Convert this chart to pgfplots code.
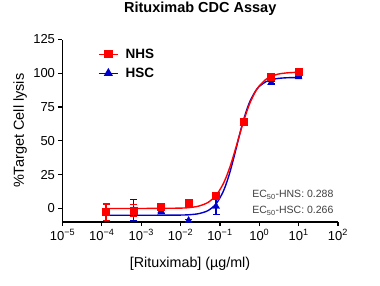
\documentclass[border=0pt]{standalone}
\usepackage{pgfplots}
\pgfplotsset{compat=1.18}
\usepackage{fontspec}
\setmainfont{Liberation Sans}
\definecolor{nhs}{RGB}{255,0,0}
\definecolor{hsc}{RGB}{0,0,204}
\definecolor{anno}{RGB}{64,64,64}
\begin{document}
\begin{tikzpicture}
\path[use as bounding box] (-62.5pt,-63pt) rectangle (317.5pt,222pt);
\begin{axis}[
  at={(0,0)}, anchor=south west, scale only axis,
  width=275.5pt, height=182.5pt,
  xmode=log, xmin=1e-5, xmax=100, ymin=-10, ymax=125,
  axis x line*=bottom, axis y line*=left,
  axis line style={line width=1.3pt, black},
  tick align=outside, major tick length=4pt,
  tick style={line width=1.2pt, black},
  xminorticks=false,
  xtick={1e-5,1e-4,1e-3,1e-2,1e-1,1,10,100},
  xticklabels={10\textsuperscript{−5},10\textsuperscript{−4},10\textsuperscript{−3},10\textsuperscript{−2},10\textsuperscript{−1},10\textsuperscript{0},10\textsuperscript{1},10\textsuperscript{2}},
  ytick={0,25,50,75,100,125},
  /pgf/number format/assume math mode=true,
  tick label style={font=\fontsize{13}{15}\selectfont},
  title={\bfseries Rituximab CDC Assay},
  title style={font=\fontsize{14.5}{16}\selectfont, at={(axis description cs:0.5,1.134)}, anchor=center},
  xlabel={[Rituximab] (µg/ml)},
  xlabel style={font=\fontsize{14.3}{16}\selectfont, at={(axis description cs:0.463,-0.230)}, anchor=center},
  ylabel={\%Target Cell lysis},
  ylabel style={font=\fontsize{14.5}{16}\selectfont, at={(axis description cs:-0.154,0.5)}, anchor=center},
  legend style={at={(axis description cs:0.118,0.972)}, anchor=north west, draw=none, fill=none,
    font=\bfseries\fontsize{13.5}{15}\selectfont, row sep=4pt,
    /tikz/every odd column/.append style={column sep=5pt}},
  legend image code/.code={\draw[mark repeat=2,mark phase=2,#1] plot coordinates {(0pt,0pt) (9.5pt,0pt) (19pt,0pt)};},
  legend cell align=left,
]
\addlegendimage{nhs, line width=1.3pt, mark=square*, mark size=3.5pt}
\addlegendimage{hsc, line width=1.3pt, mark=triangle*, mark size=4pt}
\legend{NHS,HSC}

% fitted curves
\addplot[hsc, line width=1.4pt, smooth, no marks] coordinates {
(1.2e-4,-5) (1e-3,-5) (1e-2,-4.86) (0.02,-4.43) (0.03,-3.72) (0.05,-1.52) (0.08,3.46) (0.12,12.26) (0.16,22.1) (0.2,31.8) (0.25,42.8) (0.3,52.1) (0.35,59.7) (0.4,65.7) (0.5,74.5) (0.6,80.2) (0.8,86.8) (1,90.3) (1.5,93.9) (2,95.2) (3,96.2) (5,96.7) (10,96.9)};
\addplot[nhs, line width=1.4pt, smooth, no marks] coordinates {
(1.2e-4,0) (1e-3,0.005) (1e-2,0.28) (0.02,0.94) (0.03,1.89) (0.05,4.51) (0.08,9.70) (0.12,17.97) (0.16,26.6) (0.2,34.9) (0.25,44.3) (0.3,52.3) (0.35,59.0) (0.4,64.7) (0.5,73.1) (0.6,79.1) (0.8,86.5) (1,90.7) (1.5,95.7) (2,97.7) (3,99.4) (5,100.3) (10,100.8)};

% HSC data
\addplot[hsc, only marks, mark=triangle*, mark size=4pt,
  error bars/.cd, y dir=both, y explicit,
  error bar style={line width=1.3pt, hsc},
  error mark options={rotate=90, mark size=3.5pt, line width=1.3pt, hsc}]
table[x=x, y=y, y error=e] {
x y e
0.000128 -3 2
0.00064 -1.2 7.7
0.0032 -2 1.5
0.016 -8.9 0.5
0.08 1.5 6
0.4 63 1.5
2 93 1
10 97.3 0.5
};
% NHS data
\addplot[nhs, only marks, mark=square*, mark size=3.5pt,
  error bars/.cd, y dir=both, y explicit,
  error bar style={line width=1.3pt, nhs},
  error mark options={rotate=90, mark size=3.5pt, line width=1.3pt, nhs}]
table[x=x, y=y, y error=e] {
x y e
0.000128 -2.7 6
0.00064 -1.5 4.5
0.0032 1.5 1.2
0.016 4.0 1.0
0.08 9.6 1.0
0.4 64.5 2.0
2 97.4 1.0
10 101.5 1.0
};

\node[anchor=east, font=\fontsize{10.5}{12}\selectfont, text=anno] at (axis description cs:0.996,0.148) {EC\textsubscript{50}-HNS: 0.288};
\node[anchor=east, font=\fontsize{10.5}{12}\selectfont, text=anno] at (axis description cs:0.996,0.060) {EC\textsubscript{50}-HSC: 0.266};
\end{axis}
\end{tikzpicture}
\end{document}
